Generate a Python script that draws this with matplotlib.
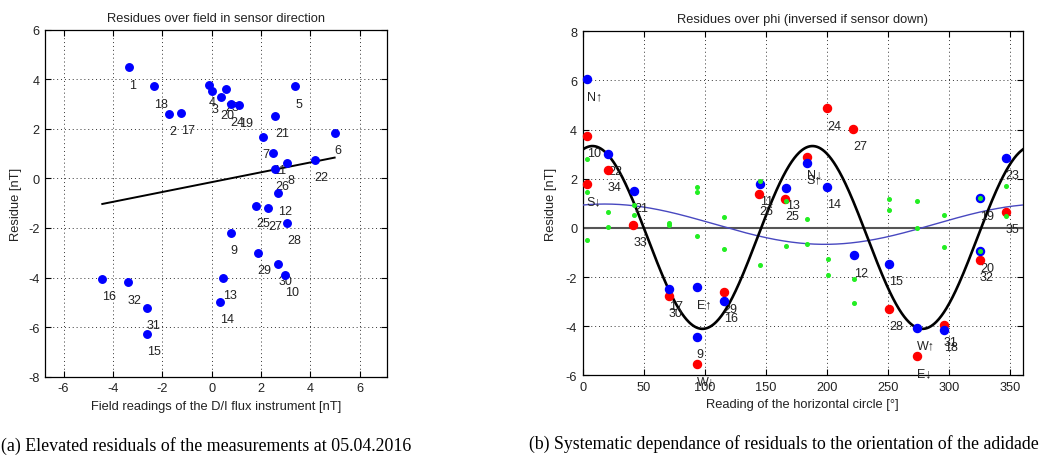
import numpy as np
import matplotlib
matplotlib.use("Agg")
import matplotlib.pyplot as plt

plt.rcParams['font.family'] = ['Liberation Sans', 'DejaVu Sans']
plt.rcParams['axes.unicode_minus'] = False

# ---------------- Left panel data ----------------
left_labels = ['1', '2', '3', '4', '5', '6', '7', '8', '9', '10', '11', '12', '13', '14', '15', '16',
               '17', '18', '19', '20', '21', '22', '23', '24', '25', '26', '27', '28', '29', '30', '31', '32']
field_x = [-3.34, -1.73, 0.00, -0.12, 3.39, 4.98, 2.06, 3.06, 0.77, 2.98, 2.50, 2.70, 0.47, 0.35, -2.63, -4.43,
           -1.23, -2.32, 1.11, 0.36, 2.58, 4.17, 0.57, 0.77, 1.79, 2.58, 2.29, 3.06, 1.86, 2.70, -2.62, -3.40]
resid_y = [4.48, 2.61, 3.51, 3.77, 3.71, 1.84, 1.67, 0.62, -2.19, -3.89, 1.02, -0.60, -4.02, -4.97, -6.28, -4.06,
           2.65, 3.71, 2.95, 3.27, 2.52, 0.75, 3.59, 2.98, -1.10, 0.39, -1.21, -1.79, -3.01, -3.45, -5.21, -4.19]
left_xticks = [-6, -4, -2, 0, 2, 4, 6]
left_yticks = [-8, -6, -4, -2, 0, 2, 4, 6]

# ---------------- Right panel data ----------------
phi_blue = [3.3, 21.0, 42.0, 70.8, 93.2, 93.2, 115.3, 145.0, 166.0, 183.2, 200.1, 222.2, 250.8, 273.2, 295.5,
            325.0, 325.0, 346.0]
res_blue = [6.07, 3.01, 1.50, -2.47, -2.39, -4.43, -2.97, 1.79, 1.62, 2.66, 1.66, -1.12, -1.45, -4.08, -4.16,
            1.20, -0.95, 2.86]
lab_blue = ['N\u2191', '22', '21', '17', 'E\u2191', '9', '16', '11', '13', 'S\u2191', '14', '12', '15',
            'W\u2191', '18', '19', '20', '23']

phi_red = [3.3, 3.3, 20.4, 41.4, 70.3, 93.2, 115.3, 144.5, 165.5, 183.2, 200.1, 221.4, 250.8, 273.2, 295.5,
           325.0, 346.0]
res_red = [3.75, 1.79, 2.35, 0.12, -2.77, -5.55, -2.61, 1.39, 1.19, 2.90, 4.86, 4.02, -3.31, -5.22, -3.94,
           -1.30, 0.65]
lab_red = ['10', 'S\u2193', '34', '33', '30', 'W\u2193', '29', '26', '25', 'N\u2193', '24', '27', '28',
           'E\u2193', '31', '32', '35']

phi_green = [3.3, 3.3, 3.3, 21.0, 21.0, 42.0, 42.0, 70.8, 70.8, 93.2, 93.2, 93.2, 115.3, 115.3, 145.0, 145.0,
             166.0, 166.0, 183.2, 183.2, 201.0, 201.0, 222.2, 222.2, 250.8, 250.8, 273.2, 273.2, 295.5, 295.5,
             325.0, 325.0, 346.0, 346.0]
res_green = [2.79, 1.48, -0.51, 0.63, 0.02, 0.94, 0.51, 0.20, 0.12, 1.68, 1.44, -0.34, 0.45, -0.84, 1.89, -1.53,
             1.08, -0.72, 0.36, -0.66, -1.28, -1.93, -2.09, -3.04, 1.17, 0.71, 1.08, 0.00, 0.51, -0.78,
             1.20, -0.95, 1.71, 0.47]

# fitted model coefficients (offset, amplitude, phase in deg)
fit_2phi = [-0.39, 3.72, 8.0]
fit_1phi = [0.15, 0.82, 18.0]
right_xticks = [0, 50, 100, 150, 200, 250, 300, 350]
right_yticks = [-6, -4, -2, 0, 2, 4, 6, 8]

W, H = 1057, 460
fig = plt.figure(figsize=(W / 100, H / 100), dpi=100)

def px_axes(x0, y0, x1, y1):
    return fig.add_axes([x0 / W, 1 - y1 / H, (x1 - x0) / W, (y1 - y0) / H])

FS = 9.3
TFS = 9.2
LFS = 9.0
txtc = '#222222'

def style(ax):
    ax.grid(True, linestyle=(0, (1, 3)), color='#333333', linewidth=0.7)
    ax.tick_params(direction='in', length=4, width=0.8, top=True, right=True, labelsize=TFS,
                   colors='black', labelcolor=txtc, pad=4)
    for s in ax.spines.values():
        s.set_linewidth(0.9)
        s.set_color('black')
    ax.set_axisbelow(True)

# ---------------- Left axes ----------------
ax1 = px_axes(45, 30.5, 387, 377.7)
style(ax1)
ax1.set_xlim(-6.75, 7.1)
ax1.set_ylim(-8, 6)
ax1.set_xticks(left_xticks)
ax1.set_yticks(left_yticks)
fx = np.array(field_x)
ry = np.array(resid_y)
k, b = np.polyfit(fx, ry, 1)
xl = np.array([fx.min(), fx.max()])
ax1.plot(xl, k * xl + b, color='black', lw=1.4, zorder=3)
for xv, yv, lab in zip(field_x, resid_y, left_labels):
    ax1.text(xv, yv - 0.7, lab, fontsize=LFS, color=txtc, ha='left', va='center', zorder=4)
ax1.plot(field_x, resid_y, 'o', color='#0000ff', ms=5.4, mec='#0000ff', zorder=5, clip_on=False)
ax1.set_title('Residues over field in sensor direction', fontsize=FS, color=txtc, pad=6)
ax1.set_xlabel('Field readings of the D/I flux instrument [nT]', fontsize=FS, color=txtc, labelpad=4)
ax1.set_ylabel('Residue [nT]', fontsize=FS, color=txtc, labelpad=4)

# ---------------- Right axes ----------------
ax2 = px_axes(582.7, 32.3, 1022.7, 376.3)
style(ax2)
ax2.set_xlim(0, 360)
ax2.set_ylim(-6, 8)
ax2.set_xticks(right_xticks)
ax2.set_yticks(right_yticks)
ax2.axhline(0, color='#555555', lw=1.5, zorder=2)
phi = np.linspace(0, 360, 721)
c2, a2, p2 = fit_2phi
c1, a1, p1 = fit_1phi
ax2.plot(phi, c1 + a1 * np.cos(np.radians(phi - p1)), color='#4848c0', lw=1.0, zorder=3)
ax2.plot(phi, c2 + a2 * np.cos(np.radians(2 * (phi - p2))), color='black', lw=1.9, zorder=3)
for xv, yv, lab in zip(phi_blue, res_blue, lab_blue):
    ax2.text(xv, yv - 0.7, lab, fontsize=LFS, color=txtc, ha='left', va='center', zorder=4)
for xv, yv, lab in zip(phi_red, res_red, lab_red):
    ax2.text(xv, yv - 0.7, lab, fontsize=LFS, color=txtc, ha='left', va='center', zorder=4)
ax2.plot(phi_red, res_red, 'o', color='#ff0000', mec='#ff0000', ms=5.8, zorder=5, clip_on=False)
ax2.plot(phi_blue, res_blue, 'o', color='#0000ff', mec='#0000ff', ms=5.8, zorder=6, clip_on=False)
ax2.plot(phi_green, res_green, 'o', color='#22ee22', mec='#22ee22', ms=2.6, zorder=7, clip_on=False)
ax2.set_title('Residues over phi (inversed if sensor down)', fontsize=FS, color=txtc, pad=7)
ax2.set_xlabel('Reading of the horizontal circle [\u00b0]', fontsize=FS, color=txtc, labelpad=4)
ax2.set_ylabel('Residue [nT]', fontsize=FS, color=txtc, labelpad=6)

# ---------------- Captions ----------------
cap_font = ['Liberation Serif', 'DejaVu Serif']
fig.text(206 / W, 1 - 446 / H, '(a) Elevated residuals of the measurements at 05.04.2016',
         ha='center', va='center', fontsize=12.9, family=cap_font, color='black')
fig.text(784 / W, 1 - 444 / H, '(b) Systematic dependance of residuals to the orientation of the adidade',
         ha='center', va='center', fontsize=12.8, family=cap_font, color='black')

fig.savefig('out.png', dpi=100)
